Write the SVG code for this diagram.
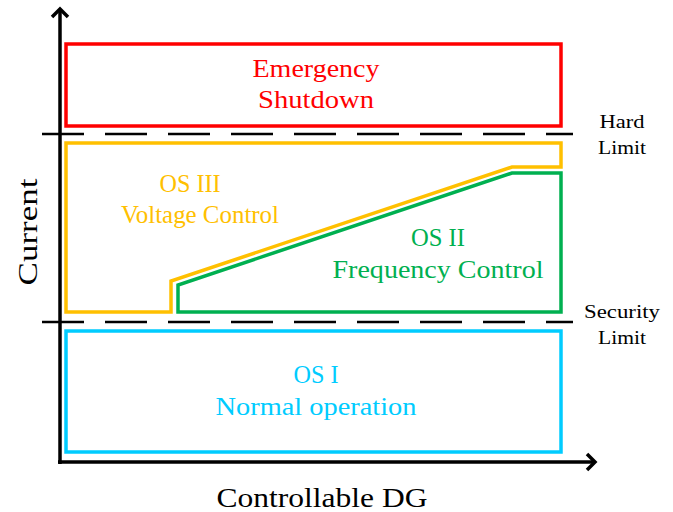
<svg xmlns="http://www.w3.org/2000/svg" width="673" height="512" viewBox="0 0 673 512">
<style>
text{font-family:"Liberation Serif","DejaVu Serif",serif;text-anchor:middle}
.lbl{font-size:25px}
.side{font-size:19px;fill:#000}
.ax{font-size:28px;fill:#000}
.box{fill:none;stroke-width:3.5;stroke-linejoin:miter}
.dash{stroke:#000;stroke-width:2.5;stroke-dasharray:42 21;fill:none}
.axis{stroke:#000;stroke-width:3.5;fill:none}
</style>
<rect width="673" height="512" fill="#fff"/>
<g id="limits">
<line class="dash" x1="42" y1="134" x2="573" y2="134"/>
<line class="dash" x1="42" y1="322" x2="573" y2="322"/>
<text class="side" x="622" y="128" textLength="45" lengthAdjust="spacingAndGlyphs">Hard</text>
<text class="side" x="622" y="154" textLength="48" lengthAdjust="spacingAndGlyphs">Limit</text>
<text class="side" x="622" y="318" textLength="76" lengthAdjust="spacingAndGlyphs">Security</text>
<text class="side" x="622" y="344" textLength="48" lengthAdjust="spacingAndGlyphs">Limit</text>
</g>
<g id="emergency">
<rect class="box" x="66" y="44" width="495" height="82" stroke="#FF0000"/>
<text class="lbl" x="316" y="77" fill="#FF0000" textLength="127" lengthAdjust="spacingAndGlyphs">Emergency</text>
<text class="lbl" x="316" y="108" fill="#FF0000" textLength="116" lengthAdjust="spacingAndGlyphs">Shutdown</text>
</g>
<g id="os3">
<polygon class="box" points="66,143 561,143 561,167 512,167 171,281 171,312 66,312" stroke="#FFC000"/>
<text class="lbl" x="190" y="192" fill="#FFC000" textLength="61" lengthAdjust="spacingAndGlyphs">OS III</text>
<text class="lbl" x="200" y="223" fill="#FFC000" textLength="158" lengthAdjust="spacingAndGlyphs">Voltage Control</text>
</g>
<g id="os2">
<polygon class="box" points="178,312 561,312 561,173 512,173 178,285" stroke="#00B050"/>
<text class="lbl" x="438" y="246" fill="#00B050" textLength="54" lengthAdjust="spacingAndGlyphs">OS II</text>
<text class="lbl" x="438" y="278" fill="#00B050" textLength="211" lengthAdjust="spacingAndGlyphs">Frequency Control</text>
</g>
<g id="os1">
<rect class="box" x="66" y="331" width="495" height="121" stroke="#00CCFF"/>
<text class="lbl" x="316" y="383" fill="#00CCFF" textLength="45" lengthAdjust="spacingAndGlyphs">OS I</text>
<text class="lbl" x="316" y="415" fill="#00CCFF" textLength="201" lengthAdjust="spacingAndGlyphs">Normal operation</text>
</g>
<g id="axes">
<line class="axis" x1="60" y1="9" x2="60" y2="464"/>
<line class="axis" x1="58" y1="462" x2="595" y2="462"/>
<polyline class="axis" points="52,17 60,9 68,17"/>
<polyline class="axis" points="587,454 595,462 587,470"/>
<text class="ax" x="322" y="507" textLength="211" lengthAdjust="spacingAndGlyphs">Controllable DG</text>
<text class="ax" transform="translate(37,232) rotate(-90)" x="0" y="0" textLength="107" lengthAdjust="spacingAndGlyphs">Current</text>
</g>
</svg>
